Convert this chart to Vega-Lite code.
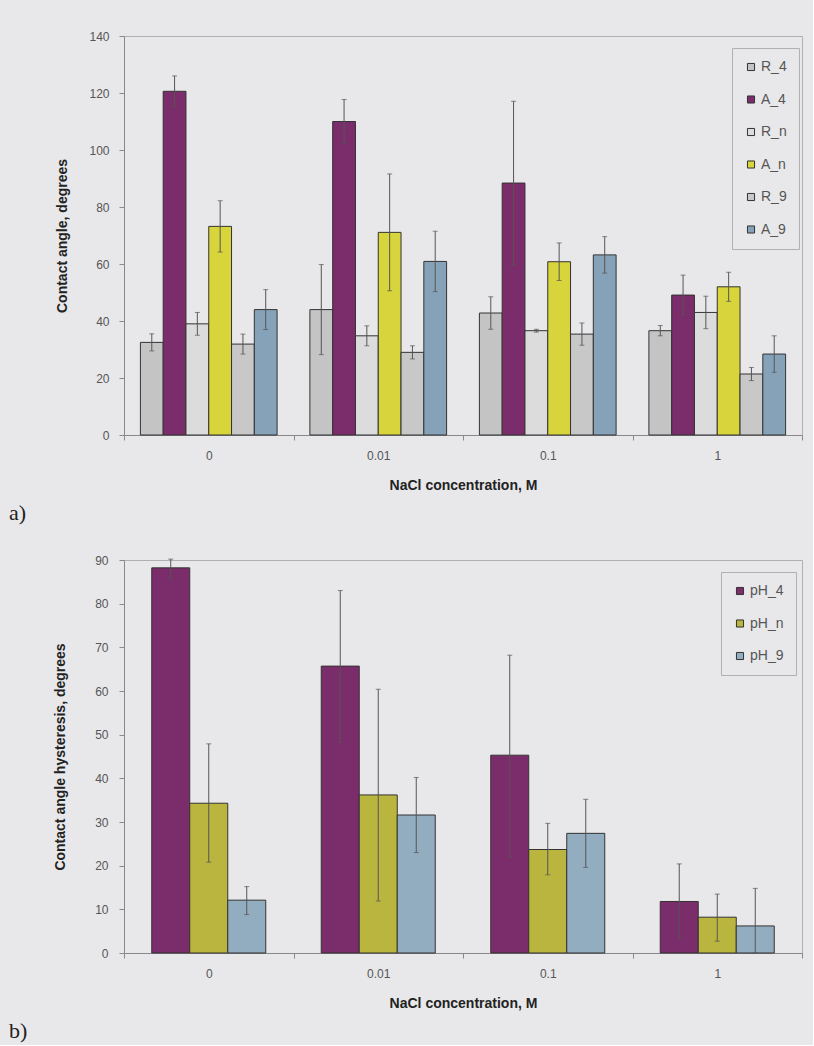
{
  "$schema": "https://vega.github.io/schema/vega-lite/v6.json",
  "background": "#e8e8ea",
  "padding": {"left": 8, "top": 29, "right": 10, "bottom": 2},
  "config": {
    "font": "Liberation Sans",
    "view": {"stroke": "#b0b0b0", "strokeWidth": 1},
    "axis": {
      "labelFont": "Liberation Sans", "labelFontSize": 12, "labelColor": "#555",
      "titleFont": "Liberation Sans", "titleFontSize": 14, "titleFontWeight": "bold", "titleColor": "#222",
      "domainColor": "#888", "tickColor": "#888", "grid": false, "tickSize": 5
    },
    "legend": {
      "orient": "none", "direction": "vertical", "fillColor": "#e8e8ea", "strokeColor": "#b0b0b0",
      "padding": 12, "rowPadding": 18.5, "symbolType": "square", "symbolSize": 50,
      "symbolStrokeColor": "#333", "symbolStrokeWidth": 1, "labelFontSize": 14, "labelColor": "#555",
      "labelOffset": 3, "labelFont": "Liberation Sans"
    },
    "concat": {"spacing": 28}
  },
  "datasets": {
    "a": [
      {"conc": "0", "series": "R_4", "value": 32.5, "lo": 29.5, "hi": 35.5},
      {"conc": "0", "series": "A_4", "value": 120.6, "lo": 115.2, "hi": 126},
      {"conc": "0", "series": "R_n", "value": 39, "lo": 35, "hi": 43},
      {"conc": "0", "series": "A_n", "value": 73.2, "lo": 64.2, "hi": 82.2},
      {"conc": "0", "series": "R_9", "value": 31.9, "lo": 28.4, "hi": 35.4},
      {"conc": "0", "series": "A_9", "value": 44, "lo": 37, "hi": 51},
      {"conc": "0.01", "series": "R_4", "value": 44, "lo": 28.2, "hi": 59.8},
      {"conc": "0.01", "series": "A_4", "value": 110, "lo": 102.3, "hi": 117.7},
      {"conc": "0.01", "series": "R_n", "value": 34.8, "lo": 31.3, "hi": 38.3},
      {"conc": "0.01", "series": "A_n", "value": 71.1, "lo": 50.6, "hi": 91.6},
      {"conc": "0.01", "series": "R_9", "value": 29, "lo": 26.7, "hi": 31.3},
      {"conc": "0.01", "series": "A_9", "value": 60.9, "lo": 50.3, "hi": 71.5},
      {"conc": "0.1", "series": "R_4", "value": 42.8, "lo": 37.1, "hi": 48.5},
      {"conc": "0.1", "series": "A_4", "value": 88.4, "lo": 59.7, "hi": 117.1},
      {"conc": "0.1", "series": "R_n", "value": 36.6, "lo": 36.1, "hi": 37.1},
      {"conc": "0.1", "series": "A_n", "value": 60.8, "lo": 54.2, "hi": 67.4},
      {"conc": "0.1", "series": "R_9", "value": 35.4, "lo": 31.5, "hi": 39.3},
      {"conc": "0.1", "series": "A_9", "value": 63.2, "lo": 56.8, "hi": 69.6},
      {"conc": "1", "series": "R_4", "value": 36.6, "lo": 34.8, "hi": 38.4},
      {"conc": "1", "series": "A_4", "value": 49.1, "lo": 42.1, "hi": 56.1},
      {"conc": "1", "series": "R_n", "value": 43, "lo": 37.3, "hi": 48.7},
      {"conc": "1", "series": "A_n", "value": 52, "lo": 46.9, "hi": 57.1},
      {"conc": "1", "series": "R_9", "value": 21.4, "lo": 19.1, "hi": 23.7},
      {"conc": "1", "series": "A_9", "value": 28.4, "lo": 22, "hi": 34.8}
    ],
    "b": [
      {"conc": "0", "series": "pH_4", "value": 88.2, "lo": 85.9, "hi": 90.2},
      {"conc": "0", "series": "pH_n", "value": 34.3, "lo": 20.8, "hi": 47.9},
      {"conc": "0", "series": "pH_9", "value": 12.1, "lo": 8.8, "hi": 15.2},
      {"conc": "0.01", "series": "pH_4", "value": 65.7, "lo": 48.2, "hi": 83},
      {"conc": "0.01", "series": "pH_n", "value": 36.2, "lo": 11.9, "hi": 60.4},
      {"conc": "0.01", "series": "pH_9", "value": 31.6, "lo": 23, "hi": 40.2},
      {"conc": "0.1", "series": "pH_4", "value": 45.3, "lo": 22, "hi": 68.2},
      {"conc": "0.1", "series": "pH_n", "value": 23.7, "lo": 17.9, "hi": 29.7},
      {"conc": "0.1", "series": "pH_9", "value": 27.4, "lo": 19.6, "hi": 35.2},
      {"conc": "1", "series": "pH_4", "value": 11.8, "lo": 3.4, "hi": 20.4},
      {"conc": "1", "series": "pH_n", "value": 8.2, "lo": 2.7, "hi": 13.5},
      {"conc": "1", "series": "pH_9", "value": 6.2, "lo": 0, "hi": 14.8}
    ]
  },
  "vconcat": [
    {
      "width": 678,
      "height": 399,
      "data": {"name": "a"},
      "title": {"text": "a)", "orient": "bottom", "anchor": "start", "frame": "group", "font": "Liberation Serif", "fontSize": 22, "fontWeight": "normal", "color": "#222", "dx": -115, "offset": 11},
      "encoding": {
        "x": {"field": "conc", "type": "nominal", "sort": ["0", "0.01", "0.1", "1"], "scale": {"paddingInner": 0, "paddingOuter": 0},
              "axis": {"title": "NaCl concentration, M", "labelAngle": 0, "tickBand": "extent", "labelPadding": 10, "titlePadding": 17}},
        "xOffset": {"field": "series", "type": "nominal", "sort": ["R_4", "A_4", "R_n", "A_n", "R_9", "A_9"], "scale": {"domain": ["R_4", "A_4", "R_n", "A_n", "R_9", "A_9"], "paddingInner": 0, "paddingOuter": 0.72}}
      },
      "layer": [
        {
          "mark": {"type": "bar", "stroke": "#333", "strokeWidth": 1},
          "encoding": {
            "y": {"field": "value", "type": "quantitative", "scale": {"domain": [0, 140]},
                  "axis": {"values": [0, 20, 40, 60, 80, 100, 120, 140], "title": "Contact angle, degrees", "labelPadding": 10, "titlePadding": 19}},
            "color": {"field": "series", "type": "nominal",
                      "scale": {"domain": ["R_4", "A_4", "R_n", "A_n", "R_9", "A_9"], "range": ["#c4c4c4", "#7b2c6a", "#dcdcdc", "#d8d43c", "#c8c8c8", "#86a2b8"]},
                      "legend": {"title": null, "legendX": 608, "legendY": 12}}
          }
        },
        {
          "mark": {"type": "rule", "color": "#555", "strokeWidth": 1},
          "encoding": {"y": {"field": "lo", "type": "quantitative"}, "y2": {"field": "hi"}}
        },
        {
          "mark": {"type": "tick", "orient": "horizontal", "color": "#555", "size": 5, "thickness": 1},
          "encoding": {"y": {"field": "lo", "type": "quantitative"}}
        },
        {
          "mark": {"type": "tick", "orient": "horizontal", "color": "#555", "size": 5, "thickness": 1},
          "encoding": {"y": {"field": "hi", "type": "quantitative"}}
        }
      ]
    },
    {
      "width": 678,
      "height": 393,
      "data": {"name": "b"},
      "title": {"text": "b)", "orient": "bottom", "anchor": "start", "frame": "group", "font": "Liberation Serif", "fontSize": 22, "fontWeight": "normal", "color": "#222", "dx": -115, "offset": 11},
      "encoding": {
        "x": {"field": "conc", "type": "nominal", "sort": ["0", "0.01", "0.1", "1"], "scale": {"paddingInner": 0, "paddingOuter": 0},
              "axis": {"title": "NaCl concentration, M", "labelAngle": 0, "tickBand": "extent", "labelPadding": 10, "titlePadding": 17}},
        "xOffset": {"field": "series", "type": "nominal", "sort": ["pH_4", "pH_n", "pH_9"], "scale": {"domain": ["pH_4", "pH_n", "pH_9"], "paddingInner": 0, "paddingOuter": 0.73}}
      },
      "layer": [
        {
          "mark": {"type": "bar", "stroke": "#333", "strokeWidth": 1},
          "encoding": {
            "y": {"field": "value", "type": "quantitative", "scale": {"domain": [0, 90]},
                  "axis": {"values": [0, 10, 20, 30, 40, 50, 60, 70, 80, 90], "title": "Contact angle hysteresis, degrees", "labelPadding": 11, "titlePadding": 27}},
            "color": {"field": "series", "type": "nominal",
                      "scale": {"domain": ["pH_4", "pH_n", "pH_9"], "range": ["#7b2c6a", "#bab53e", "#92acc0"]},
                      "legend": {"title": null, "legendX": 597, "legendY": 12}}
          }
        },
        {
          "mark": {"type": "rule", "color": "#555", "strokeWidth": 1},
          "encoding": {"y": {"field": "lo", "type": "quantitative"}, "y2": {"field": "hi"}}
        },
        {
          "mark": {"type": "tick", "orient": "horizontal", "color": "#555", "size": 5, "thickness": 1},
          "encoding": {"y": {"field": "lo", "type": "quantitative"}}
        },
        {
          "mark": {"type": "tick", "orient": "horizontal", "color": "#555", "size": 5, "thickness": 1},
          "encoding": {"y": {"field": "hi", "type": "quantitative"}}
        }
      ]
    }
  ],
  "resolve": {"scale": {"color": "independent", "xOffset": "independent", "y": "independent"}}
}
